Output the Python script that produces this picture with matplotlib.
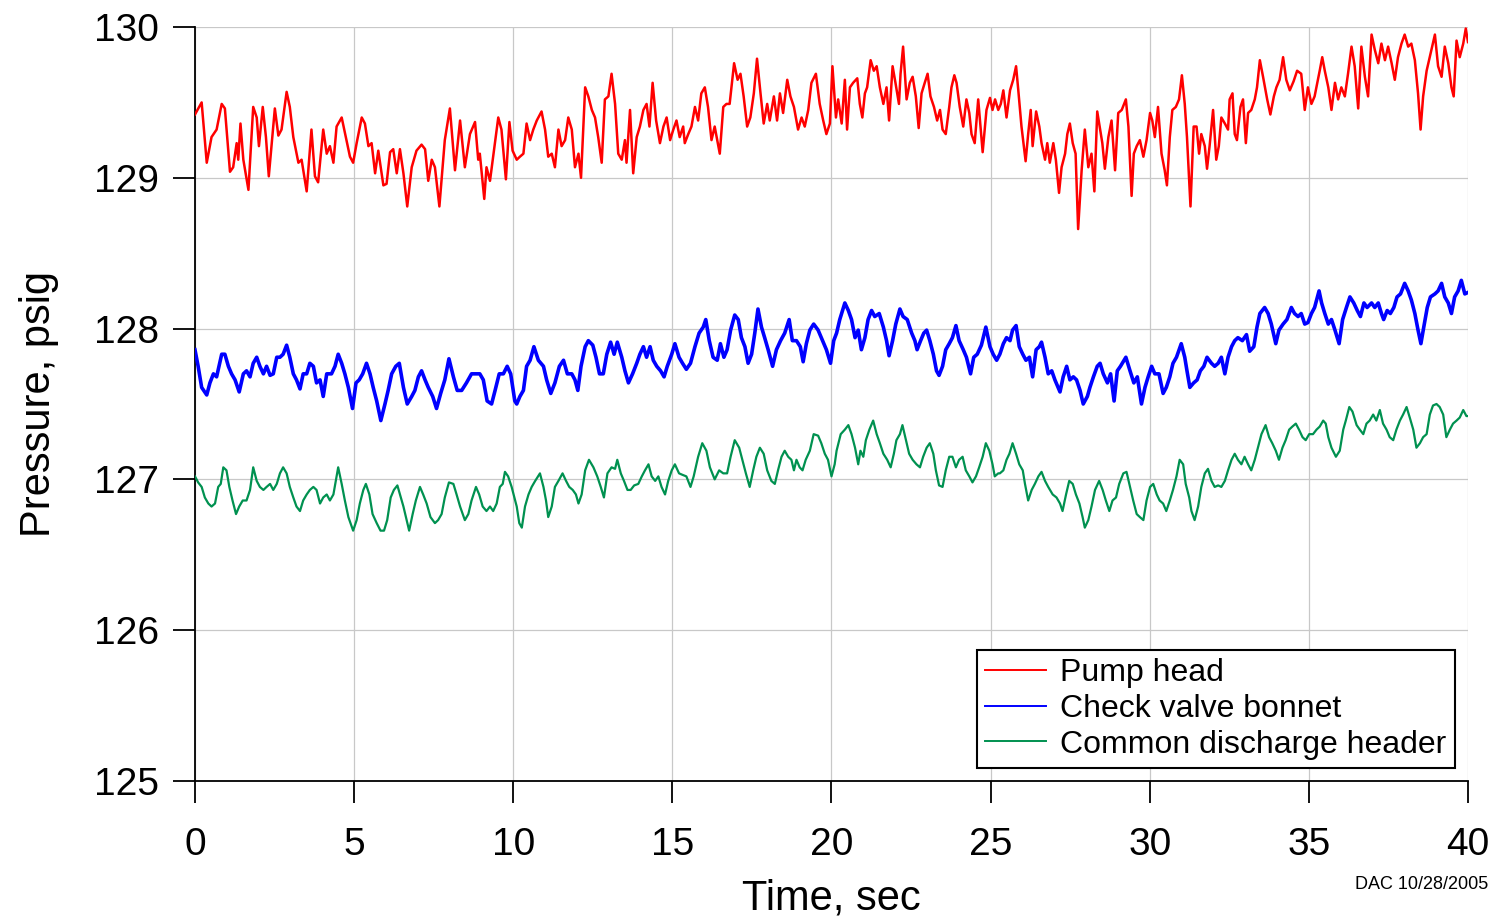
import matplotlib
matplotlib.use("Agg")
import matplotlib.pyplot as plt
from matplotlib.lines import Line2D

plt.rcParams['font.family'] = ['Liberation Sans', 'DejaVu Sans']

# Pump head pressure (psig) vs time (s)
pump_t = [0, 0.21, 0.37, 0.52, 0.68, 0.84, 0.94, 1.10, 1.20, 1.31, 1.36, 1.43, 1.52, 1.68, 1.83, 1.94, 2.01, 2.13, 2.23, 2.32, 2.51, 2.62, 2.72, 2.88, 2.98, 3.09, 3.25, 3.35, 3.51, 3.66, 3.77, 3.87, 4.03, 4.14, 4.24, 4.35, 4.45, 4.61, 4.76, 4.87,
          4.97, 5.08, 5.24, 5.34, 5.45, 5.55, 5.66, 5.76, 5.92, 6.02, 6.13, 6.23, 6.34, 6.44, 6.55, 6.67, 6.81, 6.96, 7.12, 7.23, 7.33, 7.44, 7.54, 7.68, 7.85, 8.01, 8.17, 8.33, 8.48, 8.64, 8.80, 8.90, 8.95, 9.09, 9.16, 9.27, 9.37, 9.53, 9.63, 9.77, 9.88, 9.98, 10.11,
          10.21, 10.32, 10.42, 10.53, 10.63, 10.74, 10.89, 11.00, 11.10, 11.21, 11.31, 11.42, 11.52, 11.63, 11.73, 11.84, 11.94, 12.05, 12.13, 12.26, 12.36, 12.47, 12.57, 12.67, 12.78, 12.88, 12.99, 13.09, 13.20, 13.30, 13.41, 13.51, 13.56, 13.67, 13.77, 13.88, 13.98, 14.09, 14.19, 14.28, 14.38, 14.49, 14.61, 14.72, 14.82, 14.93, 15.03,
          15.13, 15.23, 15.34, 15.39, 15.50, 15.60, 15.71, 15.81, 15.91, 16.02, 16.12, 16.23, 16.33, 16.41, 16.49, 16.60, 16.70, 16.80, 16.94, 17.05, 17.14, 17.24, 17.35, 17.45, 17.56, 17.66, 17.77, 17.87, 17.98, 18.06, 18.19, 18.29, 18.38, 18.48, 18.61, 18.71, 18.82, 18.95, 19.06, 19.16, 19.27, 19.37, 19.51, 19.63, 19.74, 19.84, 19.95,
          20.03, 20.14, 20.21, 20.32, 20.42, 20.49, 20.58, 20.68, 20.81, 20.89, 20.97, 21.05, 21.12, 21.23, 21.33, 21.42, 21.52, 21.63, 21.73, 21.81, 21.92, 22.01, 22.12, 22.17, 22.25, 22.36, 22.46, 22.55, 22.65, 22.74, 22.83, 22.93, 23.02, 23.11, 23.22, 23.32, 23.41, 23.49, 23.59, 23.70, 23.77, 23.86, 23.93, 24.03, 24.14, 24.24, 24.33, 24.40, 24.50, 24.61, 24.75, 24.87, 24.98,
          25.06, 25.14, 25.24, 25.32, 25.40, 25.50, 25.61, 25.71, 25.80, 25.87, 25.97, 26.10, 26.18, 26.26, 26.32, 26.43, 26.53, 26.60, 26.71, 26.78, 26.86, 26.97, 27.05, 27.15, 27.23, 27.34, 27.41, 27.49, 27.58, 27.67, 27.75, 27.86, 27.96, 28.07, 28.17, 28.26, 28.35, 28.44, 28.51, 28.59, 28.70, 28.80, 28.91, 29.01, 29.12, 29.25, 29.33, 29.43, 29.50, 29.59, 29.69, 29.80, 29.90, 30.01,
          30.08, 30.16, 30.26, 30.37, 30.47, 30.54, 30.63, 30.71, 30.82, 30.92, 31.01, 31.10, 31.17, 31.28, 31.38, 31.47, 31.55, 31.62, 31.73, 31.80, 31.88, 31.99, 32.09, 32.17, 32.25, 32.36, 32.46, 32.51, 32.60, 32.67, 32.74, 32.85, 32.93, 33.02, 33.09, 33.19, 33.30, 33.37, 33.46, 33.56, 33.69, 33.79, 33.90, 33.98, 34.08, 34.19, 34.29, 34.40, 34.52, 34.63, 34.76, 34.87, 34.97, 35.08, 35.18,
          35.34, 35.42, 35.50, 35.61, 35.71, 35.82, 35.92, 36.02, 36.13, 36.23, 36.34, 36.44, 36.55, 36.65, 36.76, 36.86, 36.97, 37.07, 37.18, 37.28, 37.39, 37.49, 37.60, 37.70, 37.80, 37.91, 38.01, 38.12, 38.22, 38.33, 38.43, 38.51, 38.59, 38.70, 38.82, 38.96, 39.06, 39.17, 39.27, 39.38, 39.48, 39.55, 39.64, 39.74, 39.85, 39.93, 40.00]
pump_p = [129.42, 129.50, 129.10, 129.27, 129.32, 129.49, 129.46, 129.04, 129.07, 129.23, 129.12, 129.36, 129.12, 128.92, 129.47, 129.40, 129.21, 129.47, 129.27, 129.01, 129.46, 129.28, 129.32, 129.57, 129.47, 129.27, 129.10, 129.12, 128.91, 129.32, 129.01, 128.97, 129.32, 129.16, 129.21, 129.10, 129.34, 129.40, 129.25, 129.14,
          129.10, 129.23, 129.40, 129.36, 129.21, 129.23, 129.03, 129.18, 128.95, 128.96, 129.17, 129.19, 129.03, 129.19, 129.03, 128.81, 129.07, 129.18, 129.22, 129.19, 128.98, 129.12, 129.07, 128.81, 129.25, 129.46, 129.05, 129.38, 129.07, 129.29, 129.37, 129.12, 129.16, 128.86, 129.07, 128.98, 129.14, 129.40, 129.32, 128.99, 129.37, 129.18, 129.12,
          129.14, 129.16, 129.36, 129.25, 129.32, 129.38, 129.44, 129.32, 129.14, 129.16, 129.07, 129.32, 129.21, 129.25, 129.40, 129.32, 129.07, 129.16, 129.00, 129.60, 129.54, 129.45, 129.40, 129.27, 129.10, 129.52, 129.54, 129.69, 129.49, 129.16, 129.12, 129.25, 129.10, 129.45, 129.03, 129.27, 129.34, 129.45, 129.49, 129.34, 129.63, 129.38, 129.23, 129.34, 129.40, 129.25, 129.32,
          129.38, 129.27, 129.34, 129.23, 129.29, 129.34, 129.47, 129.38, 129.56, 129.60, 129.47, 129.25, 129.34, 129.25, 129.16, 129.47, 129.49, 129.49, 129.76, 129.65, 129.69, 129.54, 129.34, 129.40, 129.56, 129.79, 129.56, 129.36, 129.49, 129.38, 129.54, 129.38, 129.56, 129.43, 129.65, 129.54, 129.47, 129.32, 129.40, 129.34, 129.45, 129.63, 129.69, 129.49, 129.38, 129.29, 129.36,
          129.74, 129.40, 129.52, 129.36, 129.65, 129.32, 129.60, 129.63, 129.66, 129.49, 129.40, 129.56, 129.60, 129.78, 129.71, 129.74, 129.60, 129.49, 129.60, 129.38, 129.74, 129.63, 129.49, 129.69, 129.87, 129.52, 129.63, 129.67, 129.54, 129.33, 129.56, 129.63, 129.69, 129.54, 129.47, 129.38, 129.45, 129.32, 129.29, 129.47, 129.60, 129.68, 129.63, 129.47, 129.34, 129.52, 129.43, 129.29, 129.23, 129.52, 129.17, 129.45, 129.53,
          129.45, 129.52, 129.45, 129.49, 129.58, 129.40, 129.58, 129.65, 129.74, 129.58, 129.34, 129.11, 129.29, 129.45, 129.21, 129.44, 129.34, 129.23, 129.12, 129.23, 129.10, 129.23, 129.12, 128.90, 129.07, 129.16, 129.29, 129.36, 129.23, 129.16, 128.66, 129.05, 129.32, 129.07, 129.16, 128.91, 129.44, 129.32, 129.23, 129.06, 129.27, 129.38, 129.05, 129.43, 129.45, 129.52, 129.34, 128.88, 129.16, 129.21, 129.25, 129.14, 129.25, 129.43,
          129.38, 129.27, 129.47, 129.16, 129.05, 128.95, 129.27, 129.45, 129.47, 129.52, 129.68, 129.49, 129.27, 128.81, 129.34, 129.34, 129.16, 129.29, 129.21, 129.06, 129.21, 129.45, 129.12, 129.21, 129.40, 129.36, 129.32, 129.52, 129.56, 129.29, 129.25, 129.47, 129.52, 129.23, 129.43, 129.45, 129.52, 129.60, 129.78, 129.67, 129.52, 129.42, 129.54, 129.60, 129.65, 129.80, 129.65, 129.58, 129.64, 129.71, 129.69, 129.45, 129.60, 129.49, 129.54,
          129.71, 129.80, 129.71, 129.60, 129.45, 129.63, 129.52, 129.60, 129.54, 129.69, 129.87, 129.74, 129.46, 129.87, 129.67, 129.54, 129.95, 129.85, 129.76, 129.89, 129.78, 129.87, 129.76, 129.65, 129.80, 129.89, 129.95, 129.87, 129.89, 129.78, 129.56, 129.32, 129.54, 129.71, 129.82, 129.95, 129.74, 129.67, 129.87, 129.76, 129.60, 129.54, 129.91, 129.80, 129.89, 129.99, 129.90]

# Check valve bonnet pressure (psig) vs time (s)
bonnet_t = [0, 0.10, 0.21, 0.37, 0.47, 0.58, 0.68, 0.84, 0.94, 1.05, 1.15, 1.26, 1.39, 1.52, 1.62, 1.73, 1.83, 1.94, 2.04, 2.15, 2.25, 2.36, 2.46, 2.57, 2.67, 2.77, 2.88, 2.98, 3.09, 3.19, 3.30, 3.40, 3.51, 3.61, 3.72, 3.82, 3.93, 4.03, 4.14, 4.29, 4.40, 4.50, 4.61, 4.71, 4.82, 4.95,
            5.06, 5.16, 5.27, 5.39, 5.50, 5.60, 5.71, 5.84, 5.97, 6.07, 6.18, 6.31, 6.42, 6.55, 6.67, 6.81, 6.91, 7.02, 7.12, 7.23, 7.33, 7.47, 7.59, 7.72, 7.85, 7.98, 8.12, 8.24, 8.38, 8.53, 8.69, 8.83, 8.95, 9.06, 9.18, 9.32, 9.43, 9.56, 9.69, 9.81, 9.92, 10.05,
            10.11, 10.21, 10.32, 10.42, 10.53, 10.65, 10.79, 10.95, 11.05, 11.18, 11.31, 11.45, 11.58, 11.70, 11.84, 11.94, 12.03, 12.13, 12.26, 12.36, 12.50, 12.60, 12.71, 12.83, 12.94, 13.06, 13.17, 13.27, 13.41, 13.51, 13.62, 13.75, 13.88, 13.98, 14.09, 14.19, 14.30, 14.40, 14.51, 14.63, 14.74, 14.84, 14.98, 15.08,
            15.21, 15.32, 15.44, 15.57, 15.71, 15.84, 15.97, 16.05, 16.16, 16.28, 16.41, 16.51, 16.62, 16.72, 16.83, 16.96, 17.07, 17.17, 17.28, 17.38, 17.49, 17.59, 17.69, 17.80, 17.90, 18.01, 18.15, 18.27, 18.40, 18.53, 18.67, 18.77, 18.90, 19.02, 19.11, 19.21, 19.32, 19.44, 19.58, 19.72, 19.84, 19.97, 20.07,
            20.16, 20.26, 20.42, 20.53, 20.63, 20.74, 20.84, 20.94, 21.05, 21.15, 21.26, 21.36, 21.50, 21.63, 21.73, 21.81, 21.92, 22.02, 22.15, 22.25, 22.38, 22.52, 22.62, 22.69, 22.80, 22.90, 22.99, 23.09, 23.20, 23.30, 23.38, 23.49, 23.59, 23.70, 23.80, 23.91, 24.01, 24.14, 24.24, 24.37, 24.47, 24.58, 24.71, 24.85, 24.98, 25.08, 25.19,
            25.29, 25.40, 25.50, 25.61, 25.69, 25.80, 25.90, 26.01, 26.11, 26.22, 26.32, 26.43, 26.53, 26.60, 26.71, 26.81, 26.92, 27.02, 27.18, 27.28, 27.39, 27.49, 27.60, 27.70, 27.81, 27.91, 28.04, 28.12, 28.23, 28.35, 28.44, 28.54, 28.67, 28.77, 28.88, 28.98, 29.08, 29.25, 29.38, 29.50, 29.61, 29.74, 29.85, 29.95, 30.06, 30.16,
            30.29, 30.42, 30.52, 30.63, 30.73, 30.84, 30.99, 31.10, 31.17, 31.26, 31.38, 31.49, 31.59, 31.70, 31.80, 31.94, 32.04, 32.15, 32.25, 32.36, 32.46, 32.57, 32.67, 32.77, 32.91, 33.04, 33.14, 33.27, 33.37, 33.46, 33.61, 33.72, 33.82, 33.96, 34.06, 34.19, 34.31, 34.45, 34.55, 34.66, 34.76, 34.87, 34.97, 35.08, 35.18,
            35.32, 35.40, 35.50, 35.61, 35.71, 35.82, 35.95, 36.06, 36.18, 36.29, 36.41, 36.52, 36.62, 36.73, 36.83, 36.97, 37.07, 37.18, 37.28, 37.35, 37.46, 37.56, 37.67, 37.77, 37.88, 38.01, 38.12, 38.22, 38.33, 38.43, 38.52, 38.61, 38.72, 38.82, 38.96, 39.06, 39.17, 39.27, 39.38, 39.48, 39.58, 39.69, 39.79, 39.90, 40.00]
bonnet_p = [127.86, 127.75, 127.61, 127.56, 127.64, 127.70, 127.68, 127.83, 127.83, 127.75, 127.70, 127.66, 127.58, 127.70, 127.72, 127.68, 127.77, 127.81, 127.75, 127.70, 127.75, 127.69, 127.70, 127.81, 127.81, 127.83, 127.89, 127.81, 127.70, 127.66, 127.60, 127.70, 127.70, 127.77, 127.75, 127.64, 127.66, 127.55, 127.70, 127.70, 127.75, 127.83, 127.77, 127.70, 127.61, 127.47,
            127.64, 127.66, 127.70, 127.77, 127.70, 127.61, 127.52, 127.39, 127.50, 127.59, 127.70, 127.75, 127.77, 127.61, 127.50, 127.55, 127.59, 127.68, 127.72, 127.66, 127.61, 127.55, 127.47, 127.57, 127.66, 127.80, 127.68, 127.59, 127.59, 127.64, 127.70, 127.70, 127.70, 127.66, 127.52, 127.50, 127.59, 127.70, 127.70, 127.75, 127.70, 127.52,
            127.50, 127.55, 127.59, 127.75, 127.79, 127.88, 127.79, 127.75, 127.66, 127.57, 127.64, 127.75, 127.79, 127.70, 127.70, 127.66, 127.59, 127.75, 127.88, 127.92, 127.89, 127.81, 127.70, 127.70, 127.83, 127.91, 127.83, 127.91, 127.81, 127.72, 127.64, 127.70, 127.77, 127.83, 127.88, 127.81, 127.88, 127.79, 127.75, 127.72, 127.68, 127.75, 127.83, 127.90,
            127.81, 127.77, 127.73, 127.77, 127.88, 127.97, 128.01, 128.06, 127.92, 127.81, 127.79, 127.90, 127.81, 127.86, 127.99, 128.09, 128.06, 127.94, 127.88, 127.77, 127.83, 127.97, 128.13, 128.01, 127.94, 127.86, 127.75, 127.86, 127.92, 127.97, 128.06, 127.92, 127.92, 127.88, 127.78, 127.90, 127.99, 128.03, 127.99, 127.92, 127.86, 127.77, 127.92,
            127.97, 128.06, 128.17, 128.12, 128.06, 127.94, 127.99, 127.86, 127.94, 128.06, 128.12, 128.08, 128.10, 128.01, 127.92, 127.82, 127.92, 128.03, 128.13, 128.08, 128.06, 127.97, 127.92, 127.86, 127.92, 127.97, 127.99, 127.92, 127.83, 127.72, 127.69, 127.75, 127.86, 127.90, 127.94, 128.02, 127.92, 127.86, 127.81, 127.70, 127.81, 127.83, 127.89, 128.01, 127.88, 127.83, 127.79,
            127.83, 127.90, 127.94, 127.92, 127.99, 128.02, 127.88, 127.83, 127.79, 127.81, 127.68, 127.86, 127.88, 127.91, 127.81, 127.70, 127.72, 127.66, 127.58, 127.68, 127.75, 127.66, 127.68, 127.66, 127.59, 127.50, 127.55, 127.61, 127.68, 127.75, 127.77, 127.70, 127.64, 127.70, 127.52, 127.72, 127.75, 127.81, 127.72, 127.64, 127.68, 127.50, 127.61, 127.68, 127.75, 127.70,
            127.70, 127.57, 127.61, 127.68, 127.77, 127.81, 127.90, 127.81, 127.72, 127.61, 127.64, 127.66, 127.72, 127.75, 127.81, 127.77, 127.75, 127.77, 127.81, 127.70, 127.81, 127.88, 127.92, 127.94, 127.92, 127.96, 127.85, 127.88, 128.01, 128.10, 128.14, 128.10, 128.03, 127.90, 127.99, 128.03, 128.06, 128.14, 128.10, 128.08, 128.10, 128.03, 128.04, 128.10, 128.14,
            128.25, 128.17, 128.10, 128.03, 128.06, 127.99, 127.90, 128.06, 128.14, 128.21, 128.17, 128.12, 128.08, 128.17, 128.14, 128.17, 128.14, 128.17, 128.10, 128.06, 128.12, 128.10, 128.14, 128.21, 128.23, 128.30, 128.25, 128.19, 128.10, 127.99, 127.90, 128.01, 128.14, 128.21, 128.23, 128.25, 128.30, 128.21, 128.17, 128.10, 128.21, 128.25, 128.32, 128.23, 128.24]

# Common discharge header pressure (psig) vs time (s)
header_t = [0, 0.10, 0.21, 0.31, 0.42, 0.52, 0.63, 0.73, 0.81, 0.89, 0.99, 1.08, 1.18, 1.29, 1.39, 1.50, 1.62, 1.73, 1.83, 1.94, 2.04, 2.15, 2.25, 2.36, 2.46, 2.57, 2.67, 2.77, 2.88, 2.98, 3.09, 3.19, 3.30, 3.40, 3.51, 3.61, 3.72, 3.82, 3.93, 4.03, 4.14, 4.24, 4.35, 4.45, 4.50, 4.61, 4.71, 4.82,
            4.97, 5.08, 5.18, 5.29, 5.37, 5.48, 5.58, 5.71, 5.83, 5.94, 6.04, 6.15, 6.25, 6.36, 6.44, 6.55, 6.65, 6.73, 6.84, 6.94, 7.07, 7.17, 7.28, 7.40, 7.54, 7.64, 7.75, 7.85, 7.98, 8.12, 8.22, 8.33, 8.48, 8.59, 8.69, 8.83, 8.93, 9.04, 9.16, 9.27, 9.37, 9.48, 9.58, 9.67, 9.74, 9.84, 9.95,
            10.11, 10.19, 10.27, 10.37, 10.48, 10.58, 10.69, 10.84, 10.95, 11.03, 11.10, 11.21, 11.31, 11.42, 11.55, 11.66, 11.76, 11.87, 11.97, 12.05, 12.15, 12.26, 12.38, 12.52, 12.64, 12.75, 12.85, 12.96, 13.09, 13.20, 13.27, 13.38, 13.48, 13.59, 13.69, 13.80, 13.93, 14.04, 14.14, 14.25, 14.35, 14.46, 14.56, 14.66, 14.77, 14.87, 14.98, 15.08,
            15.21, 15.32, 15.44, 15.57, 15.67, 15.81, 15.94, 16.07, 16.18, 16.33, 16.47, 16.60, 16.72, 16.83, 16.96, 17.10, 17.20, 17.31, 17.43, 17.54, 17.64, 17.75, 17.87, 17.98, 18.11, 18.22, 18.32, 18.43, 18.53, 18.64, 18.74, 18.82, 18.90, 19.00, 19.09, 19.19, 19.32, 19.44, 19.58, 19.68, 19.79, 19.89, 20.00, 20.10,
            20.16, 20.29, 20.42, 20.53, 20.63, 20.74, 20.84, 20.91, 21.00, 21.08, 21.19, 21.31, 21.42, 21.52, 21.63, 21.75, 21.86, 21.96, 22.04, 22.15, 22.23, 22.34, 22.44, 22.55, 22.67, 22.78, 22.88, 22.99, 23.09, 23.20, 23.28, 23.38, 23.49, 23.59, 23.70, 23.80, 23.91, 24.01, 24.12, 24.22, 24.33, 24.43, 24.54, 24.64, 24.75, 24.85, 24.96, 25.06, 25.13, 25.24,
            25.29, 25.40, 25.50, 25.59, 25.69, 25.80, 25.90, 26.01, 26.08, 26.18, 26.29, 26.39, 26.50, 26.60, 26.71, 26.81, 26.95, 27.07, 27.18, 27.26, 27.37, 27.47, 27.58, 27.68, 27.79, 27.89, 27.96, 28.07, 28.17, 28.28, 28.41, 28.52, 28.62, 28.73, 28.83, 28.94, 29.04, 29.17, 29.27, 29.38, 29.48, 29.59, 29.69, 29.80, 29.90, 30.01, 30.11, 30.22,
            30.31, 30.42, 30.52, 30.63, 30.73, 30.84, 30.94, 31.05, 31.13, 31.24, 31.31, 31.41, 31.52, 31.62, 31.73, 31.83, 31.94, 32.04, 32.15, 32.25, 32.36, 32.46, 32.57, 32.67, 32.77, 32.88, 32.98, 33.09, 33.19, 33.30, 33.40, 33.51, 33.64, 33.75, 33.85, 33.96, 34.06, 34.17, 34.27, 34.38, 34.48, 34.59, 34.69, 34.80, 34.90, 35.01, 35.13, 35.24,
            35.34, 35.45, 35.53, 35.61, 35.71, 35.85, 35.97, 36.08, 36.16, 36.27, 36.37, 36.50, 36.60, 36.71, 36.81, 36.91, 37.02, 37.12, 37.23, 37.33, 37.44, 37.54, 37.65, 37.75, 37.86, 37.96, 38.07, 38.17, 38.28, 38.38, 38.49, 38.59, 38.70, 38.80, 38.90, 39.01, 39.11, 39.22, 39.32, 39.43, 39.53, 39.64, 39.74, 39.85, 39.95, 40.00]
header_p = [127.02, 126.98, 126.95, 126.88, 126.84, 126.82, 126.84, 126.95, 126.97, 127.08, 127.06, 126.95, 126.86, 126.77, 126.82, 126.86, 126.86, 126.93, 127.08, 126.99, 126.95, 126.93, 126.95, 126.97, 126.93, 126.97, 127.04, 127.08, 127.04, 126.95, 126.88, 126.82, 126.79, 126.86, 126.90, 126.93, 126.95, 126.93, 126.84, 126.88, 126.90, 126.86, 126.90, 127.02, 127.08, 126.97, 126.86, 126.75,
            126.66, 126.73, 126.84, 126.93, 126.97, 126.90, 126.77, 126.71, 126.66, 126.66, 126.73, 126.88, 126.93, 126.96, 126.90, 126.82, 126.73, 126.66, 126.77, 126.86, 126.95, 126.90, 126.84, 126.75, 126.71, 126.73, 126.77, 126.88, 126.98, 126.97, 126.90, 126.82, 126.73, 126.77, 126.86, 126.95, 126.90, 126.82, 126.79, 126.82, 126.79, 126.84, 126.95, 126.97, 127.05, 127.02, 126.95,
            126.82, 126.71, 126.68, 126.82, 126.90, 126.95, 126.99, 127.04, 126.95, 126.86, 126.75, 126.82, 126.95, 126.99, 127.04, 126.99, 126.95, 126.93, 126.90, 126.84, 126.90, 127.06, 127.13, 127.08, 127.02, 126.95, 126.88, 127.04, 127.08, 127.07, 127.13, 127.04, 126.99, 126.93, 126.93, 126.96, 126.97, 127.02, 127.06, 127.10, 127.02, 126.99, 127.02, 126.95, 126.90, 126.99, 127.06, 127.10,
            127.04, 127.03, 127.02, 126.95, 127.02, 127.15, 127.24, 127.19, 127.08, 127.00, 127.06, 127.04, 127.04, 127.15, 127.26, 127.21, 127.13, 127.04, 126.95, 127.06, 127.15, 127.21, 127.17, 127.06, 126.99, 126.97, 127.06, 127.15, 127.19, 127.15, 127.13, 127.06, 127.13, 127.08, 127.06, 127.13, 127.19, 127.30, 127.29, 127.24, 127.17, 127.13, 127.02, 127.10,
            127.19, 127.30, 127.33, 127.36, 127.30, 127.21, 127.10, 127.19, 127.15, 127.26, 127.33, 127.39, 127.30, 127.24, 127.17, 127.13, 127.08, 127.17, 127.26, 127.30, 127.36, 127.26, 127.17, 127.13, 127.10, 127.08, 127.15, 127.21, 127.24, 127.17, 127.06, 126.96, 126.95, 127.06, 127.15, 127.15, 127.08, 127.13, 127.15, 127.06, 127.02, 126.98, 127.02, 127.08, 127.15, 127.24, 127.19, 127.10, 127.02, 127.04,
            127.04, 127.06, 127.13, 127.17, 127.24, 127.17, 127.10, 127.06, 126.97, 126.86, 126.93, 126.97, 127.02, 127.05, 126.99, 126.95, 126.90, 126.88, 126.84, 126.79, 126.90, 126.99, 126.97, 126.90, 126.84, 126.75, 126.68, 126.73, 126.82, 126.93, 126.99, 126.93, 126.86, 126.79, 126.86, 126.88, 126.97, 127.04, 127.05, 126.95, 126.86, 126.77, 126.75, 126.73, 126.86, 126.95, 126.97, 126.90,
            126.86, 126.84, 126.79, 126.86, 126.93, 127.02, 127.13, 127.10, 126.97, 126.88, 126.79, 126.73, 126.82, 126.95, 127.04, 127.07, 126.99, 126.95, 126.96, 126.95, 126.99, 127.06, 127.13, 127.17, 127.13, 127.10, 127.15, 127.10, 127.06, 127.13, 127.21, 127.30, 127.36, 127.28, 127.24, 127.19, 127.13, 127.21, 127.26, 127.33, 127.35, 127.37, 127.33, 127.28, 127.26, 127.30, 127.30, 127.33,
            127.35, 127.39, 127.37, 127.28, 127.21, 127.15, 127.19, 127.33, 127.39, 127.48, 127.45, 127.36, 127.33, 127.30, 127.37, 127.39, 127.43, 127.39, 127.46, 127.37, 127.33, 127.28, 127.26, 127.33, 127.39, 127.43, 127.48, 127.41, 127.33, 127.21, 127.24, 127.28, 127.30, 127.43, 127.49, 127.50, 127.48, 127.43, 127.28, 127.33, 127.37, 127.39, 127.41, 127.46, 127.42, 127.42]

series_labels = ["Pump head", "Check valve bonnet", "Common discharge header"]
series_colors = ["#ff0000", "#0000ff", "#009150"]
x_ticks = [0, 5, 10, 15, 20, 25, 30, 35, 40]
y_ticks = [125, 126, 127, 128, 129, 130]

fig = plt.figure(figsize=(14.94, 9.19), dpi=100)
ax = fig.add_axes([0.1305, 0.1502, 0.8521, 0.8204])

ax.plot(pump_t, pump_p, color=series_colors[0], lw=1.8, zorder=3)
ax.plot(bonnet_t, bonnet_p, color=series_colors[1], lw=2.6, zorder=3)
ax.plot(header_t, header_p, color=series_colors[2], lw=1.6, zorder=3)

ax.set_xlim(0, 40)
ax.set_ylim(125, 130)
ax.set_xticks(x_ticks)
ax.set_yticks(y_ticks)
ax.grid(True, color="#c8c8c8", lw=0.9, zorder=0)
ax.set_axisbelow(True)

for side in ("top", "right"):
    ax.spines[side].set_visible(False)
for side in ("left", "bottom"):
    ax.spines[side].set_linewidth(1.3)
    ax.spines[side].set_color("black")

ax.tick_params(axis="both", direction="out", length=16, width=1.3,
               labelsize=28, colors="black")
ax.tick_params(axis="x", pad=17)
ax.tick_params(axis="y", pad=10)

ax.set_xlabel("Time, sec", fontsize=30, labelpad=11)
ax.set_ylabel("Pressure, psig", fontsize=30, labelpad=25)

handles = [Line2D([0], [0], color=c, lw=1.4) for c in series_colors]
leg = ax.legend(handles, series_labels, loc="lower right", fontsize=23,
                frameon=True, fancybox=False, framealpha=1,
                edgecolor="black", handlelength=1.9, handletextpad=0.45,
                labelspacing=0.18, borderpad=0.25, borderaxespad=0.42)
leg.get_frame().set_linewidth(1.5)

fig.text(0.996, 0.038, "DAC 10/28/2005", ha="right", va="center", fontsize=13)

fig.savefig("out.png", dpi=100)
